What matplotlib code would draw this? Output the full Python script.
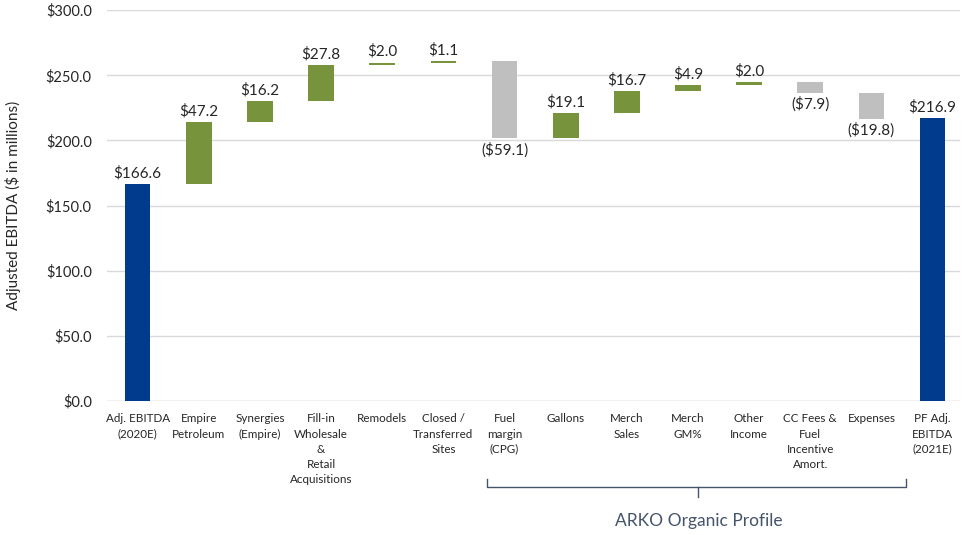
import matplotlib.pyplot as plt
import matplotlib.transforms as mtransforms

plt.rcParams['font.family'] = ['Lato', 'DejaVu Sans']

categories = ['Adj. EBITDA\n(2020E)', 'Empire\nPetroleum', 'Synergies\n(Empire)',
              'Fill-in\nWholesale\n&\nRetail\nAcquisitions', 'Remodels',
              'Closed /\nTransferred\nSites', 'Fuel\nmargin\n(CPG)', 'Gallons',
              'Merch\nSales', 'Merch\nGM%', 'Other\nIncome',
              'CC Fees &\nFuel\nIncentive\nAmort.', 'Expenses', 'PF Adj.\nEBITDA\n(2021E)']
changes = [166.6, 47.2, 16.2, 27.8, 2.0, 1.1, -59.1, 19.1, 16.7, 4.9, 2.0, -7.9, -19.8, 216.9]
kinds = ['total', 'delta', 'delta', 'delta', 'delta', 'delta', 'delta', 'delta',
         'delta', 'delta', 'delta', 'delta', 'delta', 'total']

blue = '#003B8E'
green = '#77933C'
grey = '#BFBFBF'
txt = '#262626'

fig = plt.figure(figsize=(9.64, 5.35), dpi=100)
ax = fig.add_axes([0.111, 0.2505, 0.885, 0.7305])

running = 0
for i, (v, k) in enumerate(zip(changes, kinds)):
    if k == 'total':
        bottom, height, col = 0, v, blue
        running = v
    else:
        bottom = running if v >= 0 else running + v
        height = abs(v)
        col = green if v >= 0 else grey
        running += v
    ax.bar(i, height, bottom=bottom, width=0.42, color=col, zorder=3)
    lab = f'${v:.1f}' if v >= 0 else f'(${-v:.1f})'
    if v >= 0:
        ax.text(i, bottom + height + 3, lab, ha='center', va='bottom', fontsize=11, color=txt)
    else:
        ax.text(i, bottom - 3, lab, ha='center', va='top', fontsize=11, color=txt)

ax.set_ylim(0, 300)
ax.set_xlim(-0.5, 13.45)
ax.set_yticks(range(0, 301, 50))
ax.set_yticklabels([f'${t:.1f}' for t in range(0, 301, 50)], fontsize=10.5, color=txt)
ax.set_xticks(range(len(categories)))
ax.set_xticklabels(categories, fontsize=8.4, color=txt, linespacing=1.45, va='top')
ax.tick_params(axis='both', length=0)
ax.tick_params(axis='x', pad=9)
ax.tick_params(axis='y', pad=11)
ax.grid(axis='y', color='#D9D9D9', linewidth=1, zorder=0)
for s in ax.spines.values():
    s.set_visible(False)
ax.axhline(0, color='#D9D9D9', linewidth=1, zorder=1)
ax.set_ylabel('Adjusted EBITDA ($ in millions)', fontsize=11, color=txt, labelpad=18)

# bracket under the organic items
tr = mtransforms.blended_transform_factory(ax.transData, ax.transAxes)
bc = '#44546A'
x0, x1, xm = 5.72, 12.56, 9.17
yb, yt = -0.22, -0.199
ax.plot([x0, x0, x1, x1], [yt, yb, yb, yt], color=bc, lw=1, transform=tr, clip_on=False)
ax.plot([xm, xm], [yb, yb - 0.025], color=bc, lw=1, transform=tr, clip_on=False)
ax.text(xm, -0.308, 'ARKO Organic Profile', transform=tr, ha='center', va='center',
        fontsize=12.5, color=bc)

fig.savefig('out.png', dpi=100)
